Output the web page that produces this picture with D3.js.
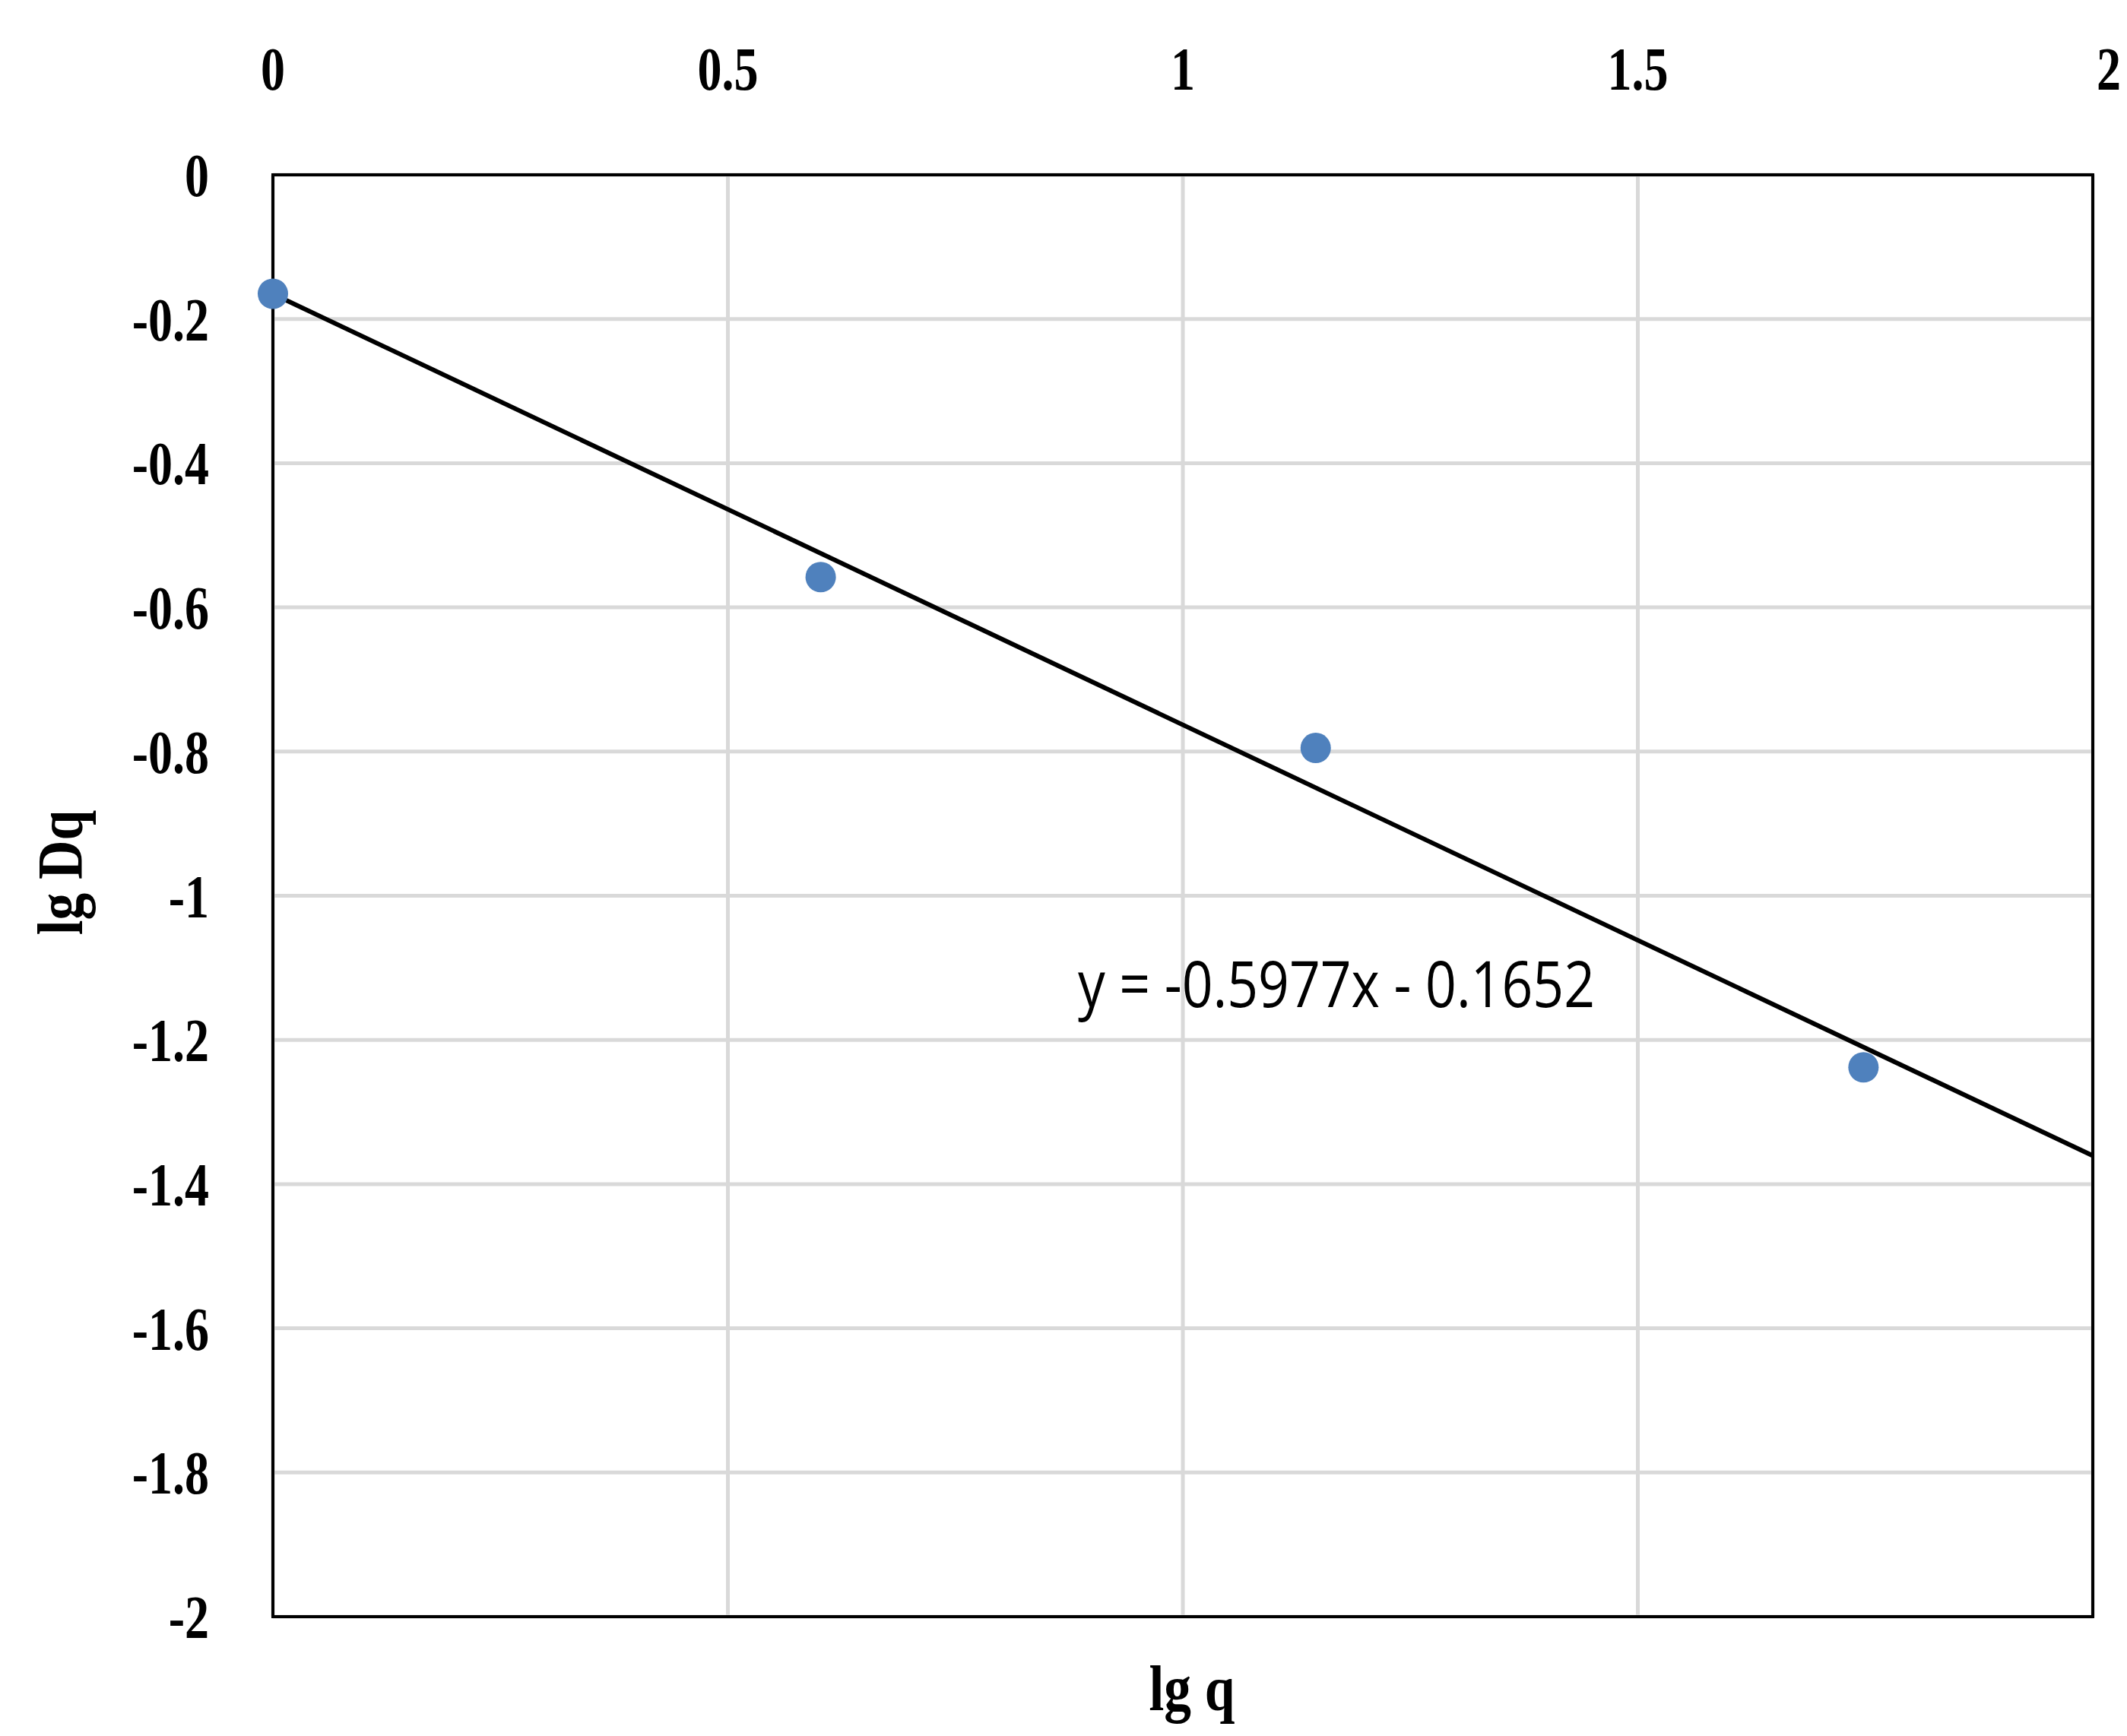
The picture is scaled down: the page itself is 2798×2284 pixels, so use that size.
<!DOCTYPE html>
<html><head><meta charset="utf-8">
<script src="https://cdn.jsdelivr.net/npm/d3@7"></script>
<style>body{margin:0;background:#fff}</style></head>
<body><svg id="c" width="2798" height="2284"></svg>
<script>
const xVals = [0, 0.602, 1.146, 1.748];
const yVals = [-0.165, -0.558, -0.795, -1.238];
const xTicks = [0, 0.5, 1, 1.5, 2];
const yTicks = [0, -0.2, -0.4, -0.6, -0.8, -1, -1.2, -1.4, -1.6, -1.8, -2];
const slope = -0.5977, intercept = -0.1652;
const eqText = "y = -0.5977x - 0.1652";

const svg = d3.select("#c");
const L = 359, R = 2753, T = 230, B = 2127;
const x = d3.scaleLinear().domain([0, 2]).range([L, R]);
const y = d3.scaleLinear().domain([0, -2]).range([T, B]);
const fmt = v => String(v);

const grid = svg.append("g").attr("stroke", "#d9d9d9").attr("stroke-width", 5);
xTicks.forEach(t => grid.append("line").attr("x1", x(t)).attr("x2", x(t)).attr("y1", T).attr("y2", B));
yTicks.forEach(t => grid.append("line").attr("x1", L).attr("x2", R).attr("y1", y(t)).attr("y2", y(t)));

svg.append("rect").attr("x", L).attr("y", T).attr("width", R - L).attr("height", B - T)
  .attr("fill", "none").attr("stroke", "#000").attr("stroke-width", 4);

const tf = "font-family:'Liberation Serif',serif;font-weight:bold;font-size:80px";
xTicks.forEach(t => {
  const anchor = t === 2 ? "end" : "middle";
  const xp = t === 2 ? 2790 : x(t);
  svg.append("text").attr("transform", `translate(${xp},118) scale(0.8,1)`)
    .attr("text-anchor", anchor).attr("style", tf).text(fmt(t));
});

yTicks.forEach(t => svg.append("text").attr("transform", `translate(275,${y(t) + 28}) scale(0.8,1)`)
  .attr("text-anchor", "end").attr("style", tf).text(fmt(t)));

svg.append("line").attr("x1", x(0)).attr("y1", y(intercept))
  .attr("x2", x(2)).attr("y2", y(slope * 2 + intercept))
  .attr("stroke", "#000").attr("stroke-width", 6);

svg.selectAll("circle.p").data(xVals).enter().append("circle")
  .attr("cx", (d) => x(d)).attr("cy", (d, i) => y(yVals[i])).attr("r", 20)
  .attr("fill", "#4f81bd");

svg.append("text").attr("x", 1418).attr("y", 1325)
  .attr("style", "font-family:'Open Sans',sans-serif;font-size:84px").attr("fill", "#000")
  .attr("textLength", 680).attr("lengthAdjust", "spacingAndGlyphs").text(eqText);

svg.append("text").attr("transform", "translate(1568,2250) scale(0.85,1)").attr("text-anchor", "middle")
  .attr("style", "font-family:'Liberation Serif',serif;font-weight:bold;font-size:84px").text("lg q");
svg.append("text").attr("transform", "translate(108,1148) rotate(-90) scale(0.85,1)").attr("text-anchor", "middle")
  .attr("style", "font-family:'Liberation Serif',serif;font-weight:bold;font-size:84px").text("lg Dq");
</script></body></html>
